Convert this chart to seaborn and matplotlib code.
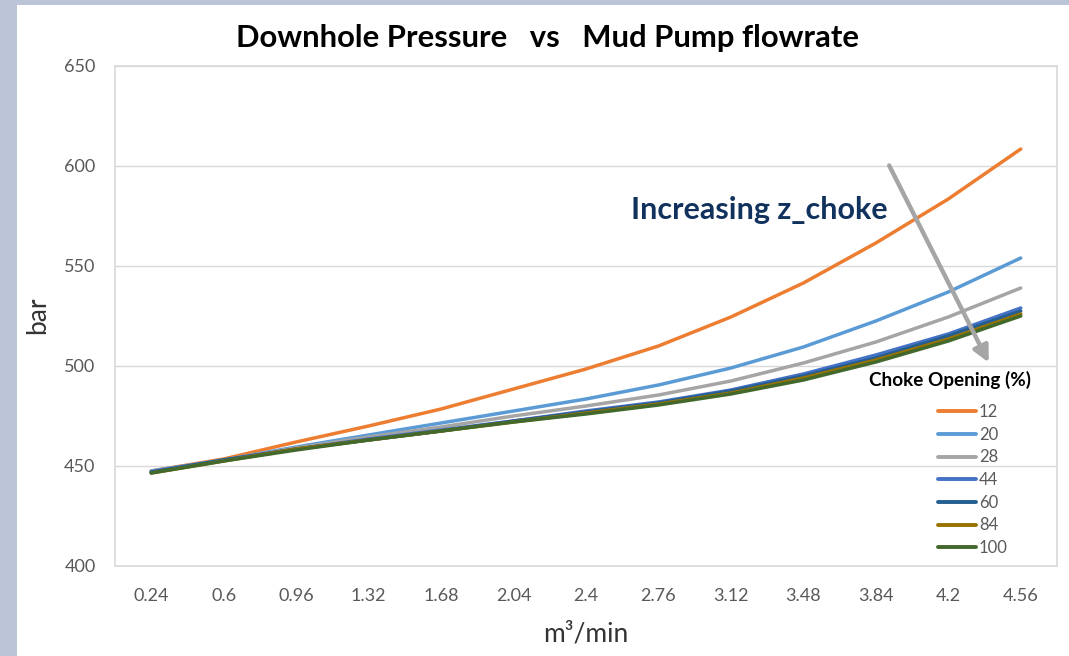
import seaborn as sns
import matplotlib.pyplot as plt
import matplotlib.patches as mpatches
import pandas as pd

sns.set_theme(style="white")
plt.rcParams['font.family'] = ['Lato', 'DejaVu Sans']

flow = [0.24, 0.6, 0.96, 1.32, 1.68, 2.04, 2.4, 2.76, 3.12, 3.48, 3.84, 4.2, 4.56]
flow_labels = ["0.24", "0.6", "0.96", "1.32", "1.68", "2.04", "2.4", "2.76", "3.12", "3.48", "3.84", "4.2", "4.56"]
chokes = ["12", "20", "28", "44", "60", "84", "100"]

p12 = [447.5, 453.5, 462, 470, 478.5, 488.5, 498.5, 510, 524.5, 541.5, 561.5, 583.5, 608.5]
p20 = [447.5, 453, 459.5, 465.5, 471.5, 477.5, 483.5, 490.5, 499, 509.5, 522.5, 537, 554]
p28 = [447, 453, 459, 464.5, 469.5, 475, 480, 485.5, 492.5, 501.5, 512, 524.5, 539]
p44 = [447, 453, 458.5, 463.5, 468, 472.5, 477.5, 482, 488, 496, 505.5, 516, 529]
p60 = [447, 453, 458.5, 463, 467.5, 472.5, 477, 481.5, 487.5, 495, 504, 515, 527.5]
p84 = [446.5, 452.5, 458.5, 463, 467.5, 472, 476.5, 481, 486.5, 494, 503, 513.5, 526]
p100 = [446.5, 452.5, 458, 463, 467.5, 472, 476, 480.5, 486, 493, 502, 512.5, 525]

colors = ["#ED7D31", "#5B9BD5", "#A5A5A5", "#4472C4", "#255E91", "#997300", "#43682B"]

rows = []
for c, vals in zip(chokes, [p12, p20, p28, p44, p60, p84, p100]):
    for f, v in zip(flow, vals):
        rows.append({"flow": f, "pressure": v, "choke": c})
df = pd.DataFrame(rows)

fig = plt.figure(figsize=(10.69, 6.56), dpi=100)
fig.patch.set_facecolor("white")
# blue-grey backdrop strips around the white chart card
bg = "#BCC5D8"
fig.patches.append(mpatches.Rectangle((0, 0), 17 / 1069, 1, transform=fig.transFigure,
                                      facecolor=bg, edgecolor="none"))
fig.patches.append(mpatches.Rectangle((0, 651 / 656), 1, 5 / 656, transform=fig.transFigure,
                                      facecolor=bg, edgecolor="none"))
ax = fig.add_axes([115 / 1069, 90 / 656, 942 / 1069, 500 / 656])

sns.lineplot(data=df, x="flow", y="pressure", hue="choke", hue_order=chokes,
             palette=colors, linewidth=2.5, ax=ax)

ax.set_xlim(0.06, 4.74)
ax.set_ylim(400, 650)
ax.set_xticks(flow)
ax.set_xticklabels(flow_labels)
ax.set_yticks([400, 450, 500, 550, 600, 650])
ax.tick_params(axis="x", length=0, pad=16, labelsize=13, labelcolor="#595959")
ax.tick_params(axis="y", length=0, pad=14, labelsize=13, labelcolor="#595959")
ax.yaxis.grid(True, color="#D9D9D9", linewidth=1)
ax.set_axisbelow(True)
for s in ax.spines.values():
    s.set_color("#D9D9D9")
    s.set_linewidth(1.2)

ax.set_xlabel("")
ax.set_ylabel("")
fig.text(586 / 1069, 1 - 634 / 656, "m³/min", ha="center", va="center",
         fontsize=19, color="#333333")
fig.text(38 / 1069, 1 - 315 / 656, "bar", rotation=90, ha="center", va="center",
         fontsize=19, color="#333333")
fig.text(547 / 1069, 1 - 38 / 656, "Downhole Pressure   vs   Mud Pump flowrate",
         ha="center", va="center", fontsize=22.3, fontweight="bold", color="black")

# annotation arrow
ax.annotate("", xy=(4.407, 500.5), xytext=(3.90, 601.5),
            arrowprops=dict(arrowstyle="-|>,head_length=0.8,head_width=0.4",
                            color="#A5A5A5", lw=3.2))
ax.text(3.90, 578, "Increasing z_choke", ha="right", va="center",
        fontsize=22, fontweight="bold", color="#12325E")

ax.get_legend().remove()
handles = [plt.Line2D([], [], color=c, lw=2.8) for c in colors]
leg = fig.legend(handles, chokes, loc="upper left", bbox_to_anchor=(938 / 1069, 1 - 404 / 656),
                 frameon=False, fontsize=12, handlelength=2.3, handletextpad=0.15,
                 labelspacing=0.40, borderpad=0, borderaxespad=0)
for t in leg.get_texts():
    t.set_color("#595959")
fig.text(950 / 1069, 1 - 380 / 656, "Choke Opening (%)", ha="center", va="center",
         fontsize=13.6, fontweight="bold", color="black")

fig.savefig("out.png", dpi=100, facecolor=fig.get_facecolor())
